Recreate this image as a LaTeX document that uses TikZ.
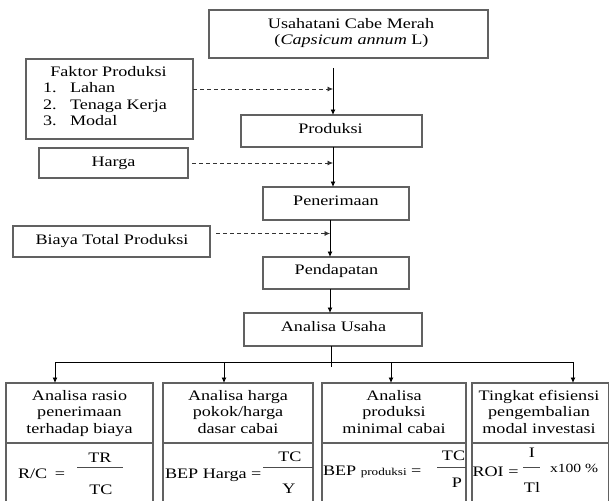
\documentclass[tikz,border=0pt]{standalone}
\usepackage{fontspec}
\setmainfont{Liberation Serif}[FakeStretch=1.25]
\usetikzlibrary{arrows.meta,calc}
\newcommand\mainsz{\fontsize{14.5pt}{17pt}\selectfont}
\newcommand\smallsz{\fontsize{10.5pt}{13pt}\selectfont}
\newcommand\pctsz{\fontsize{12.5pt}{14pt}\selectfont}
\definecolor{boxline}{gray}{0.38}
\begin{document}
\begin{tikzpicture}[x=1pt,y=-1pt,
  box/.style={draw=boxline, line width=1.1pt, inner sep=0pt, outer sep=0pt},
  t/.style={anchor=base, inner sep=0pt, outer sep=0pt, font=\mainsz},
  tl/.style={t, anchor=base west},
  conn/.style={draw=black, line width=0.9pt},
  arr/.style={conn, -{Latex[length=5.5pt,width=5pt]}},
  dasharr/.style={draw=black!80, line width=0.7pt, dash pattern=on 4pt off 3pt, -{Latex[length=5.5pt,width=5pt]}},
  fracline/.style={draw=black!70, line width=0.9pt}]
\clip (0,0) rectangle (609,500);
\fill[white] (0,0) rectangle (609,500);

% boxes
\node[box, minimum width=279pt, minimum height=48pt] (top) at (348.5,34) {};
\node[t] (top1) at (351,29) {Usahatani Cabe Merah};
\node[t] (top2) at (351.5,45) {(\textit{Capsicum annum} L)};

\node[box, minimum width=167pt, minimum height=80pt] (fak) at (109.5,99) {};
\node[t] (fak0) at (108.5,76.5) {Faktor Produksi};
\node[tl] (fak1n) at (43,92.5) {1.};
\node[tl] (fak1) at (70,92.5) {Lahan};
\node[tl] (fak2n) at (43,109) {2.};
\node[tl] (fak2) at (70,109) {Tenaga Kerja};
\node[tl] (fak3n) at (43,125) {3.};
\node[tl] (fak3) at (70,125) {Modal};

\node[box, minimum width=181pt, minimum height=32pt] (prod) at (331.5,131) {};
\node[t] (prodt) at (330.5,133.5) {Produksi};

\node[box, minimum width=149pt, minimum height=30pt] (harga) at (113.5,163) {};
\node[t] (hargat) at (113.5,166) {Harga};

\node[box, minimum width=146pt, minimum height=33pt] (pen) at (336,203.5) {};
\node[t] (pent) at (336,205) {Penerimaan};

\node[box, minimum width=197pt, minimum height=31pt] (biaya) at (111.5,241.5) {};
\node[t] (biayat) at (112,244) {Biaya Total Produksi};

\node[box, minimum width=146pt, minimum height=32pt] (pend) at (336,273) {};
\node[t] (pendt) at (336.5,274) {Pendapatan};

\node[box, minimum width=178pt, minimum height=33pt] (ana) at (333,329.5) {};
\node[t] (anat) at (333.5,331) {Analisa Usaha};

% bottom boxes
\node[box, minimum width=147pt, minimum height=132pt] (b1) at (79.5,449) {};
\node[box, minimum width=150pt, minimum height=132pt] (b2) at (238,449) {};
\node[box, minimum width=144pt, minimum height=132pt] (b3) at (394,449) {};
\node[box, minimum width=136.5pt, minimum height=132pt] (b4) at (540.25,449) {};
\coordinate (dv) at (0,443);
\foreach \b in {b1,b2,b3,b4}{
  \draw[draw=boxline, line width=1.1pt] (\b.west |- dv) -- (\b.east |- dv);
}

\node[t] (h11) at (79.5,400) {Analisa rasio};
\node[t] (h12) at (79.5,416.5) {penerimaan};
\node[t] (h13) at (79.5,433) {terhadap biaya};
\node[t] (h21) at (238,400) {Analisa harga};
\node[t] (h22) at (238,416.5) {pokok/harga};
\node[t] (h23) at (238,433) {dasar cabai};
\node[t] (h31) at (394,400) {Analisa};
\node[t] (h32) at (394,416.5) {produksi};
\node[t] (h33) at (394,433) {minimal cabai};
\node[t] (h41) at (539,400) {Tingkat efisiensi};
\node[t] (h42) at (539,416.5) {pengembalian};
\node[t] (h43) at (539,433) {modal investasi};

% formulas
\node[tl] (rc) at (18,478) {R/C};
\node[t] (rceq) at (60,478) {=};
\draw[fracline] (77,467) -- (123,467);
\node[t] (rcn) at (100,462) {TR};
\node[t] (rcd) at (101,494) {TC};

\node[tl] (bh) at (165,478) {BEP Harga =};
\draw[fracline] (263,467) -- (313,467);
\node[t] (bhn) at (290,461) {TC};
\node[t] (bhd) at (289,493) {Y};

\node[tl] (bp) at (323,475) {BEP {\smallsz produksi} =};
\draw[fracline] (437,467) -- (466,467);
\node[t] (bpn) at (453.5,460) {TC};
\node[t] (bpd) at (457,487) {P};

\node[tl] (roi) at (472.5,476) {ROI =};
\draw[fracline] (523,467) -- (540,467);
\node[t] (roin) at (532,457) {I};
\node[t] (roid) at (532,492) {Tl};
\node[tl, font=\pctsz] (roix) at (550,472) {x100 \%};

% connectors
\coordinate (a1) at (333,68);
\draw[arr] (a1) -- (a1 |- prod.north);
\draw[dasharr] ([yshift=10pt]fak.east) -- ([yshift=10pt]fak.east -| a1);
\draw[arr] (a1 |- prod.south) -- (a1 |- pen.north);
\draw[dasharr] ([xshift=4pt]harga.east) -- (harga.east -| a1);
\coordinate (a2) at (330,0);
\draw[arr] (a2 |- pen.south) -- (a2 |- pend.north);
\draw[dasharr] ([xshift=6pt,yshift=8pt]biaya.east) -- ([yshift=8pt]biaya.east -| a2);
\draw[arr] (a2 |- pend.south) -- (a2 |- ana.north);
\coordinate (a3) at (331,367);
\draw[conn] (a3 |- ana.south) -- (a3);
\coordinate (hl) at (55,362);
\coordinate (h2) at (224,362);
\coordinate (h3) at (391,362);
\coordinate (hr) at (573,362);
\draw[conn] (hl) -- (hr);
\draw[arr] (hl) -- (hl |- b1.north);
\draw[arr] (h2) -- (h2 |- b2.north);
\draw[arr] (h3) -- (h3 |- b3.north);
\draw[arr] (hr) -- (hr |- b4.north);
\end{tikzpicture}
\end{document}
